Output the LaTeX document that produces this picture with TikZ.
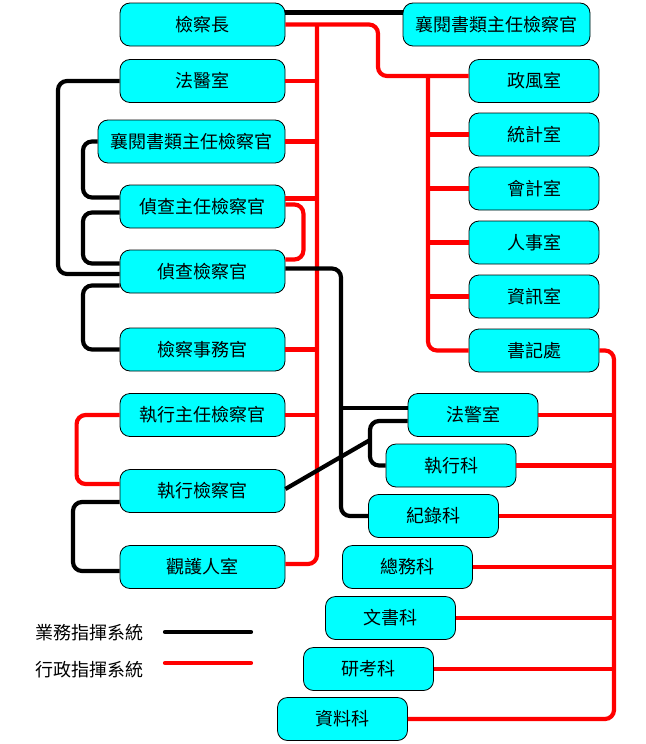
\documentclass[tikz,border=0pt]{standalone}
\usepackage{fontspec}
\newfontfamily\cjk{Noto Sans CJK TC}
\definecolor{boxcyan}{RGB}{0,255,255}
\definecolor{redline}{RGB}{255,0,0}
\tikzset{
  box/.style={draw=black, line width=0.8pt, fill=boxcyan, rounded corners=10pt,
    minimum height=43pt, inner sep=0pt, font=\cjk\fontsize{18}{20}\selectfont},
  wbox/.style={box, minimum width=165pt},
  xbox/.style={box, minimum width=187pt},
  sbox/.style={box, minimum width=130pt},
  rl/.style={draw=redline, line width=4.2pt, rounded corners=9pt},
  bl/.style={draw=black, line width=4.2pt, rounded corners=9pt},
  legtext/.style={font=\cjk\fontsize{18}{20}\selectfont, inner sep=0pt}
}
\begin{document}
\begin{tikzpicture}[x=1pt,y=-1pt]
\useasboundingbox (0,0) rectangle (645,744);
% trunk coordinates
\coordinate (T1) at (317,0);
\coordinate (T2) at (428,0);
\coordinate (T3) at (614,0);
\coordinate (L1) at (58,0);
\coordinate (L2) at (83,0);
\coordinate (L3) at (73,0);
\coordinate (L4) at (370,0);
\coordinate (B1) at (341,0);
\coordinate (J) at (370,440);
% left column
\node[wbox] (jcz)  at (202.5,24.5) {檢察長};
\node[wbox] (fys)  at (202.5,81)   {法醫室};
\node[xbox] (xyl)  at (191.5,141.5){襄閱書類主任檢察官};
\node[wbox] (zczr) at (202.5,206.5){偵查主任檢察官};
\node[wbox] (zcj)  at (202.5,271.5){偵查檢察官};
\node[wbox] (swg)  at (202.5,349.5){檢察事務官};
\node[wbox] (zxzr) at (202.5,415)  {執行主任檢察官};
\node[wbox] (zxj)  at (202.5,491)  {執行檢察官};
\node[wbox] (ghr)  at (202.5,567)  {觀護人室};
% top right
\node[xbox] (xyr)  at (496.5,24.5) {襄閱書類主任檢察官};
% right column
\node[sbox] (zfs)  at (534,81)    {政風室};
\node[sbox] (tjs)  at (534,134.5) {統計室};
\node[sbox] (hjs)  at (534,188.5) {會計室};
\node[sbox] (rss)  at (534,242.5) {人事室};
\node[sbox] (zxs)  at (534,296.5) {資訊室};
\node[sbox] (sjc)  at (534,350.5) {書記處};
% lower staircase
\node[sbox] (fjs)  at (473,415)   {法警室};
\node[sbox] (zxk)  at (451,465.5) {執行科};
\node[sbox] (jlk)  at (433.5,516) {紀錄科};
\node[sbox] (zwk)  at (407.5,567) {總務科};
\node[sbox] (wsk)  at (390.5,618) {文書科};
\node[sbox] (ykk)  at (368.5,669) {研考科};
\node[sbox] (zlk)  at (342.5,719) {資料科};
% legend
\node[legtext] (lg1) at (89,633) {業務指揮系統};
\node[legtext] (lg2) at (89,670) {行政指揮系統};
\coordinate (lb1) at (165,632);
\coordinate (lb2) at (251,632);
\coordinate (lr1) at (165,663);
\coordinate (lr2) at (251,663);
\draw[bl, line cap=round] (lb1) -- (lb2);
\draw[rl, line cap=round] (lr1) -- (lr2);

% ---------- red (administrative) ----------
\draw[rl] (jcz.east) -- (378,24.5) -- (378,76) -- ([yshift=5pt]zfs.west);
\draw[rl] ([yshift=5pt]zfs.west -| T2) -- (sjc.west -| T2) -- (sjc.west);
\foreach \n in {tjs,hjs,rss,zxs} \draw[rl] (\n.west) -- (\n.west -| T2);
\draw[rl] (jcz.east -| T1) -- ([yshift=3pt]ghr.east -| T1) -- ([yshift=3pt]ghr.east);
\draw[rl] (fys.east) -- (fys.east -| T1);
\draw[rl] (xyl.east) -- (xyl.east -| T1);
\draw[rl] ([yshift=8pt]zczr.east) -- ([yshift=8pt]zczr.east -| T1);
\draw[rl] (swg.east) -- (swg.east -| T1);
\draw[rl] (zxzr.east) -- (zxzr.east -| T1);
\draw[rl] ([yshift=2pt]zczr.east) -- ++(18,0) |- ([yshift=12pt]zcj.east);
\draw[rl] (zxzr.west) -- ++(-43,0) |- ([yshift=7pt]zxj.west);
\draw[rl] (sjc.east) -- (sjc.east -| T3) -- (zlk.east -| T3) -- (zlk.east);
\foreach \n in {fjs,zxk,jlk,zwk,wsk,ykk} \draw[rl] (\n.east) -- (\n.east -| T3);

% ---------- black (operational) ----------
\draw[bl] ([yshift=12pt]jcz.east) -- ([yshift=12pt]xyr.west);
\draw[bl] (fys.west) -- (fys.west -| L1) -- ([yshift=-2.5pt]zcj.west -| L1) -- ([yshift=-2.5pt]zcj.west);
\draw[bl] (xyl.west) -- (xyl.west -| L2) -- ([yshift=9pt]zczr.west -| L2) -- ([yshift=9pt]zczr.west);
\draw[bl] ([yshift=-6pt]zczr.west) -- ([yshift=-6pt]zczr.west -| L2) -- ([yshift=8pt]zcj.west -| L2) -- ([yshift=8pt]zcj.west);
\draw[bl] ([yshift=-14pt]zcj.west) -- ([yshift=-14pt]zcj.west -| L2) -- (swg.west -| L2) -- (swg.west);
\draw[bl] ([yshift=-11pt]zxj.west) -- ([yshift=-11pt]zxj.west -| L3) -- ([yshift=-4pt]ghr.west -| L3) -- ([yshift=-4pt]ghr.west);
\draw[bl] ([yshift=3pt]zcj.east) -- ([yshift=3pt]zcj.east -| B1) -- (jlk.west -| B1) -- (jlk.west);
\draw[bl] ([yshift=7pt]fjs.west -| B1) -- ([yshift=7pt]fjs.west);
\draw[bl] ([yshift=-6pt]fjs.west) -- ([yshift=-6pt]fjs.west -| L4) -- (zxk.west -| L4) -- (zxk.west);
\draw[bl, rounded corners=0pt] ([yshift=2pt]zxj.east) -- (J);
\end{tikzpicture}
\end{document}
